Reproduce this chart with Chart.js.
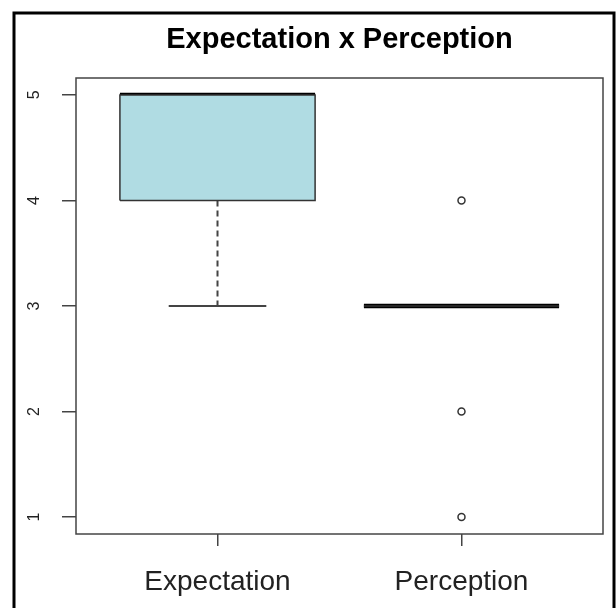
<!DOCTYPE html>
<html>
<head>
<meta charset="utf-8">
<script src="https://cdn.jsdelivr.net/npm/chart.js@4.4.1/dist/chart.umd.min.js"></script>
<style>
  html, body { margin: 0; padding: 0; background: #fff; }
  canvas { display: block; }
</style>
</head>
<body>
<canvas id="boxChart" width="616" height="608"></canvas>
<script>
// box statistics
const categories = ['Expectation', 'Perception'];
const lowerWhisker = [3, 3];
const q1 = [4, 3];
const median = [5, 3];
const q3 = [5, 3];
const upperWhisker = [5, 3];
const outliers = [[], [4, 2, 1]];
const yTicks = [1, 2, 3, 4, 5];

const boxHalf = 0.4;
const capHalf = 0.2;

const datasets = [];

categories.forEach((cat, i) => {
  const x = i + 1;
  // box (q1 to q3)
  datasets.push({
    type: 'line',
    data: [
      { x: x - boxHalf, y: q1[i] }, { x: x + boxHalf, y: q1[i] },
      { x: x + boxHalf, y: q3[i] }, { x: x - boxHalf, y: q3[i] },
      { x: x - boxHalf, y: q1[i] }
    ],
    borderColor: '#333',
    borderWidth: 1.5,
    backgroundColor: '#b0dce3',
    fill: 'shape',
    pointRadius: 0,
    tension: 0
  });
  // whiskers + caps
  if (lowerWhisker[i] < q1[i]) {
    datasets.push({
      type: 'line',
      data: [{ x: x, y: q1[i] }, { x: x, y: lowerWhisker[i] }],
      borderColor: '#444', borderWidth: 2, borderDash: [6, 4], pointRadius: 0
    });
    datasets.push({
      type: 'line',
      data: [{ x: x - capHalf, y: lowerWhisker[i] }, { x: x + capHalf, y: lowerWhisker[i] }],
      borderColor: '#444', borderWidth: 2, pointRadius: 0
    });
  }
  if (upperWhisker[i] > q3[i]) {
    datasets.push({
      type: 'line',
      data: [{ x: x, y: q3[i] }, { x: x, y: upperWhisker[i] }],
      borderColor: '#444', borderWidth: 2, borderDash: [6, 4], pointRadius: 0
    });
    datasets.push({
      type: 'line',
      data: [{ x: x - capHalf, y: upperWhisker[i] }, { x: x + capHalf, y: upperWhisker[i] }],
      borderColor: '#444', borderWidth: 2, pointRadius: 0
    });
  }
  // median
  datasets.push({
    type: 'line',
    data: [{ x: x - boxHalf, y: median[i] }, { x: x + boxHalf, y: median[i] }],
    borderColor: '#000',
    borderWidth: 4.5,
    borderCapStyle: 'butt',
    pointRadius: 0
  });
  // outliers
  if (outliers[i].length) {
    datasets.push({
      type: 'scatter',
      data: outliers[i].map(v => ({ x: x, y: v })),
      pointStyle: 'circle',
      pointRadius: 3.5,
      pointBorderWidth: 1.5,
      pointBorderColor: '#333',
      pointBackgroundColor: '#fff'
    });
  }
});

// outer frame, plot box and rotated y labels
const frameAndLabels = {
  id: 'frameAndLabels',
  beforeDraw(chart) {
    const ctx = chart.ctx;
    ctx.save();
    ctx.strokeStyle = '#000';
    ctx.lineWidth = 3;
    ctx.strokeRect(14, 13, 600, 620);
    ctx.restore();
  },
  afterDraw(chart) {
    const ctx = chart.ctx;
    const a = chart.chartArea;
    const yScale = chart.scales.y;
    ctx.save();
    ctx.strokeStyle = '#444';
    ctx.lineWidth = 1.5;
    ctx.strokeRect(a.left, a.top, a.right - a.left, a.bottom - a.top);
    ctx.fillStyle = '#222';
    ctx.font = '16px "Liberation Sans", Arial, sans-serif';
    ctx.textAlign = 'center';
    ctx.textBaseline = 'middle';
    yTicks.forEach(t => {
      const py = yScale.getPixelForValue(t);
      ctx.save();
      ctx.translate(35, py);
      ctx.rotate(-Math.PI / 2);
      ctx.fillText(String(t), 0, 0);
      ctx.restore();
    });
    ctx.restore();
  }
};

new Chart(document.getElementById('boxChart').getContext('2d'), {
  type: 'scatter',
  data: { datasets },
  options: {
    responsive: false,
    animation: false,
    devicePixelRatio: 1,
    layout: { padding: { left: 0, right: 13, top: 0, bottom: 0 } },
    scales: {
      x: {
        type: 'linear',
        min: 0.42,
        max: 2.58,
        afterBuildTicks: s => { s.ticks = categories.map((c, i) => ({ value: i + 1 })); },
        afterFit: s => { s.height = 74; },
        ticks: {
          callback: v => categories[v - 1],
          color: '#222',
          font: { family: '"Liberation Sans", Arial, sans-serif', size: 28 },
          padding: 19,
          maxRotation: 0
        },
        grid: { drawOnChartArea: false, drawTicks: true, tickLength: 12, color: '#444', lineWidth: 1.5 },
        border: { display: false }
      },
      y: {
        type: 'linear',
        min: 0.84,
        max: 5.16,
        afterBuildTicks: s => { s.ticks = yTicks.map(v => ({ value: v })); },
        afterFit: s => { s.width = 76; },
        ticks: { display: false },
        grid: { drawOnChartArea: false, drawTicks: true, tickLength: 14, color: '#444', lineWidth: 1.5 },
        border: { display: false }
      }
    },
    plugins: {
      legend: { display: false },
      tooltip: { enabled: false },
      title: {
        display: true,
        text: 'Expectation x Perception',
        fullSize: false,
        color: '#000',
        font: { family: '"Liberation Sans", Arial, sans-serif', size: 29, weight: 'bold' },
        padding: { top: 23, bottom: 20.2 }
      }
    }
  },
  plugins: [frameAndLabels]
});
</script>
</body>
</html>
